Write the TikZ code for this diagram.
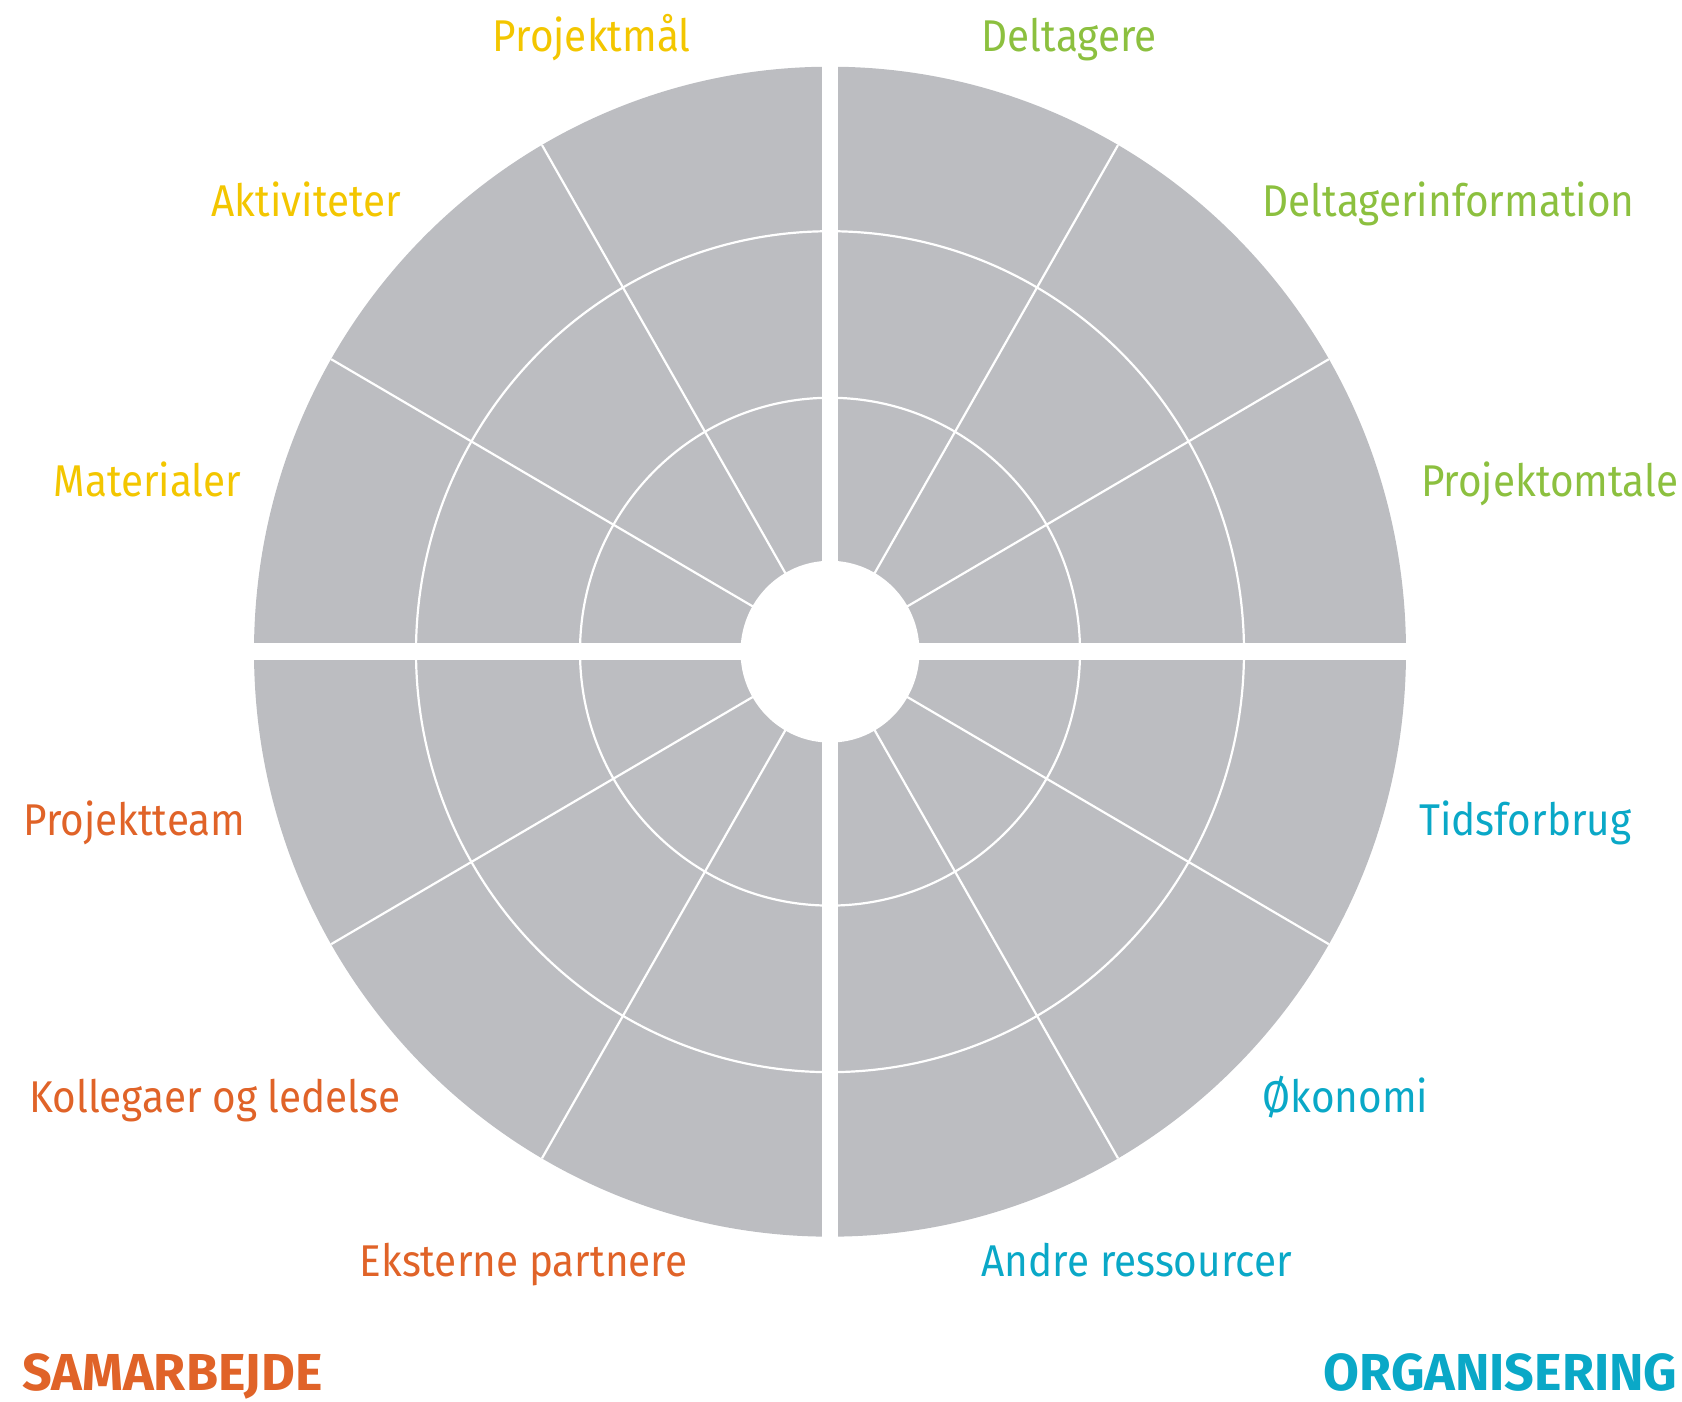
\documentclass[tikz,border=0pt]{standalone}
\usepackage{fontspec}
\usetikzlibrary{calc}
\setmainfont{Fira Sans}
\newfontfamily\labfont[FakeStretch=0.91]{Fira Sans}
\newfontfamily\headfont[FakeStretch=1.0]{Fira Sans}
\definecolor{wheelgray}{RGB}{188,189,193}
\definecolor{cyel}{RGB}{243,198,0}
\definecolor{cgrn}{RGB}{140,192,63}
\definecolor{corg}{RGB}{224,99,40}
\definecolor{ccya}{RGB}{10,168,199}
\tikzset{
  lab/.style={inner sep=0pt, font=\labfont\fontsize{44.5}{50}\selectfont},
  labL/.style={lab, anchor=base east},
  labR/.style={lab, anchor=base west},
  head/.style={inner sep=0pt, font=\headfont\bfseries\fontsize{52}{60}\selectfont},
  thinw/.style={draw=white, line width=2.2pt},
}
\begin{document}
\begin{tikzpicture}[x=1pt,y=1pt]
\useasboundingbox (0,0) rectangle (1682,1402);
\coordinate (c) at (830,750.3);
\begin{scope}[shift={(c)}, yscale=1.0156]
  \fill[wheelgray] (0,0) circle[radius=576];
  \draw[thinw] (0,0) circle[radius=250];
  \draw[thinw] (0,0) circle[radius=414];
  \foreach \a in {30,60,120,150,210,240,300,330}
    \draw[thinw] (0,0) -- (\a:576);
  \fill[white] (0,0) circle[radius=89.5];
\end{scope}
\fill[white] ($(c)+(-8.3,-600)$) rectangle ($(c)+(8.3,600)$);
\fill[white] ($(c)+(-600,-8.3)$) rectangle ($(c)+(600,8.3)$);
% labels
\node[labL, text=cyel] (pm) at (690.8,1350.5) {Projektmål};
\node[labL, text=cyel] (ak) at (401,1185.3) {Aktiviteter};
\node[labL, text=cyel] (ma) at (241.4,905) {Materialer};
\node[labL, text=corg] (pt) at (245.6,566.4) {Projektteam};
\node[labL, text=corg] (ko) at (401,289.6) {Kollegaer og ledelse};
\node[labL, text=corg] (ek) at (687.6,125.5) {Eksterne partnere};
\node[labR, text=cgrn] (de) at (981.5,1350.5) {Deltagere};
\node[labR, text=cgrn] (di) at (1262.6,1185.3) {Deltagerinformation};
\node[labR, text=cgrn] (po) at (1421,905) {Projektomtale};
\node[labR, text=ccya] (ti) at (1419,566.4) {Tidsforbrug};
\node[labR, text=ccya] (ok) at (1262.6,289.6) {Økonomi};
\node[labR, text=ccya] (an) at (981.5,125.5) {Andre ressourcer};
\node[head, text=corg, anchor=base west] (sa) at (22,11) {SAMARBEJDE};
\node[head, text=ccya, anchor=base east] (or) at (1677.5,11) {ORGANISERING};
\end{tikzpicture}
\end{document}
